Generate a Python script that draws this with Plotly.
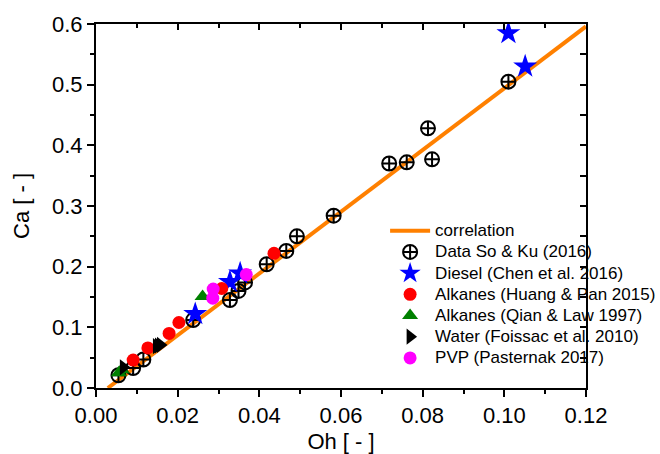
import plotly.graph_objects as go

# correlation line
corr_oh = [0.0029, 0.12]
corr_ca = [0.0, 0.596]

# Data So & Ku (2016)
soku_oh = [0.0055, 0.0091, 0.0116, 0.0238, 0.0328, 0.0349, 0.0365, 0.0418, 0.0466,
           0.0492, 0.0582, 0.0718, 0.0761, 0.0813, 0.0823, 0.1010]
soku_ca = [0.021, 0.033, 0.047, 0.112, 0.145, 0.160, 0.174, 0.204, 0.226,
           0.250, 0.284, 0.370, 0.372, 0.428, 0.377, 0.505]

# Diesel (Chen et al. 2016)
diesel_oh = [0.0243, 0.0328, 0.0353, 0.1010, 0.1051]
diesel_ca = [0.122, 0.175, 0.189, 0.585, 0.530]

# Alkanes (Huang & Pan 2015)
huang_oh = [0.0091, 0.0127, 0.0179, 0.0203, 0.0308, 0.0436]
huang_ca = [0.046, 0.066, 0.090, 0.108, 0.164, 0.222]

# Alkanes (Qian & Law 1997)
qian_oh = [0.0056, 0.0063, 0.0261]
qian_ca = [0.025, 0.030, 0.151]

# Water (Foissac et al. 2010)
water_oh = [0.0067, 0.0148, 0.0153, 0.0158]
water_ca = [0.034, 0.069, 0.070, 0.071]

# PVP (Pasternak 2017)
pvp_oh = [0.0286, 0.0287, 0.0368]
pvp_ca = [0.148, 0.163, 0.187]

x_ticks = [0.0, 0.02, 0.04, 0.06, 0.08, 0.10, 0.12]
y_ticks = [0.0, 0.1, 0.2, 0.3, 0.4, 0.5, 0.6]

FONT = "Liberation Sans, Arial, sans-serif"


def lbl(t):
    return f'<span style="font-size:17px">{t}</span>'


fig = go.Figure()
fig.add_trace(go.Scatter(x=corr_oh, y=corr_ca, mode="lines", name=lbl("correlation"),
                         line=dict(color="#FF8000", width=4)))
fig.add_trace(go.Scatter(x=soku_oh, y=soku_ca, mode="markers", name=lbl("Data So &amp; Ku (2016)"),
                         marker=dict(symbol="circle-cross-open", size=14, color="black",
                                     line=dict(width=2, color="black"))))
fig.add_trace(go.Scatter(x=diesel_oh, y=diesel_ca, mode="markers", name=lbl("Diesel (Chen et al. 2016)"),
                         marker=dict(symbol="star", size=18, color="#0000FF", line=dict(width=0))))
fig.add_trace(go.Scatter(x=huang_oh, y=huang_ca, mode="markers", name=lbl("Alkanes (Huang &amp; Pan 2015)"),
                         marker=dict(symbol="circle", size=13, color="#FF0000", line=dict(width=0))))
fig.add_trace(go.Scatter(x=qian_oh, y=qian_ca, mode="markers", name=lbl("Alkanes (Qian &amp; Law 1997)"),
                         marker=dict(symbol="triangle-up", size=14, color="#008000", line=dict(width=0))))
fig.add_trace(go.Scatter(x=water_oh, y=water_ca, mode="markers", name=lbl("Water (Foissac et al. 2010)"),
                         marker=dict(symbol="triangle-right", size=14, color="black", line=dict(width=0))))
fig.add_trace(go.Scatter(x=pvp_oh, y=pvp_ca, mode="markers", name=lbl("PVP (Pasternak 2017)"),
                         marker=dict(symbol="circle", size=13, color="#FF00FF", line=dict(width=0))))
# dummy trace for mirrored (inside-tick) top/right axes
fig.add_trace(go.Scatter(x=[x_ticks[0]], y=[y_ticks[0]], xaxis="x2", yaxis="y2", mode="markers",
                         marker=dict(opacity=0), showlegend=False, hoverinfo="skip"))

xr = [x_ticks[0], x_ticks[-1]]
yr = [y_ticks[0], y_ticks[-1]]

fig.update_layout(
    width=660, height=454,
    margin=dict(l=96, r=74, t=24, b=66, autoexpand=False),
    paper_bgcolor="white", plot_bgcolor="white",
    font=dict(family=FONT, color="black"),
    showlegend=True,
    legend=dict(x=0.59, y=0.475, xanchor="left", yanchor="top",
                font=dict(size=14, family=FONT), bgcolor="rgba(0,0,0,0)",
                tracegroupgap=0, itemwidth=40),
    xaxis=dict(range=xr, tickvals=x_ticks, ticktext=[f"{v:.2f}" for v in x_ticks],
               showgrid=False, zeroline=False, showline=True, linecolor="black", linewidth=2,
               ticks="outside", ticklen=7, tickwidth=2, tickcolor="black",
               tickfont=dict(size=22), minor=dict(dtick=0.01, ticks="outside", ticklen=4,
                                                  tickwidth=2, tickcolor="black", showgrid=False),
               title=dict(text="Oh [ - ]", font=dict(size=22), standoff=10)),
    yaxis=dict(range=yr, tickvals=y_ticks, ticktext=[f"{v:.1f}" for v in y_ticks],
               showgrid=False, zeroline=False, showline=True, linecolor="black", linewidth=2,
               ticks="outside", ticklen=7, tickwidth=2, tickcolor="black",
               tickfont=dict(size=22), minor=dict(dtick=0.05, ticks="outside", ticklen=4,
                                                  tickwidth=2, tickcolor="black", showgrid=False),
               title=dict(text="Ca [ - ]", font=dict(size=22), standoff=16)),
    xaxis2=dict(range=xr, overlaying="x", side="top", tickvals=x_ticks, showticklabels=False,
                showgrid=False, zeroline=False, showline=True, linecolor="black", linewidth=2,
                ticks="inside", ticklen=6, tickwidth=2, tickcolor="black",
                minor=dict(dtick=0.01, ticks="inside", ticklen=4, tickwidth=2, tickcolor="black",
                           showgrid=False)),
    yaxis2=dict(range=yr, overlaying="y", side="right", tickvals=y_ticks, showticklabels=False,
                showgrid=False, zeroline=False, showline=True, linecolor="black", linewidth=2,
                ticks="inside", ticklen=6, tickwidth=2, tickcolor="black",
                minor=dict(dtick=0.05, ticks="inside", ticklen=6, tickwidth=2, tickcolor="black",
                           showgrid=False)),
)

fig.write_html("out.html")
